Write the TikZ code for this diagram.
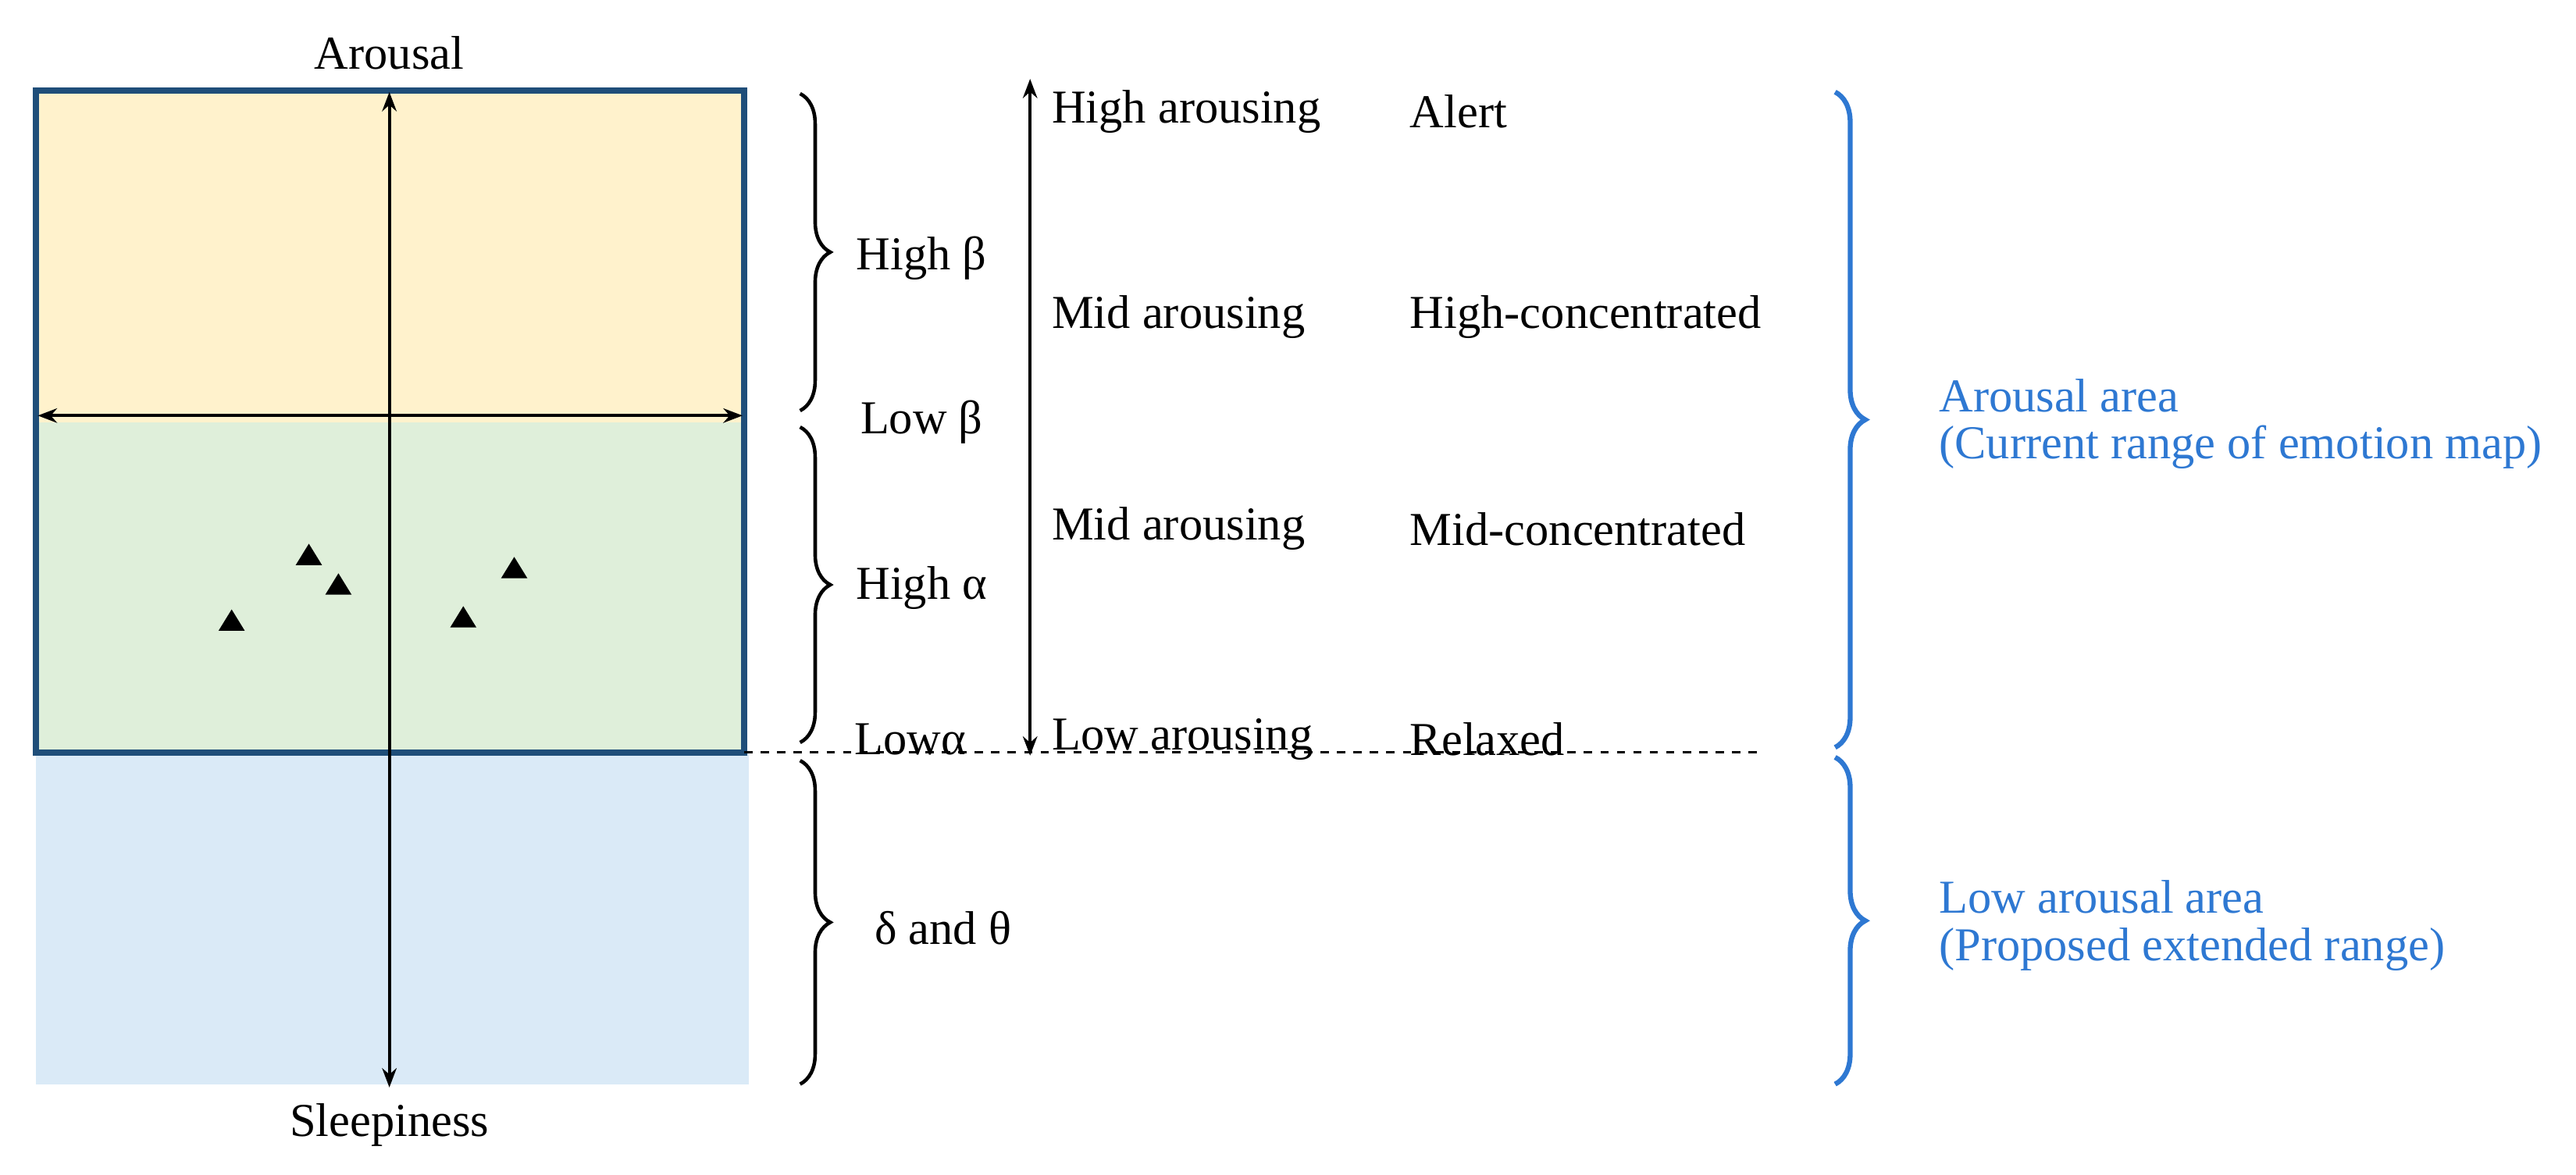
\documentclass[tikz,border=0pt]{standalone}
\usepackage{fontspec}
\setmainfont{Liberation Serif}
\usetikzlibrary{decorations.pathreplacing,arrows.meta}
\definecolor{yel}{HTML}{FFF2CC}
\definecolor{grn}{HTML}{DFEFDA}
\definecolor{blu}{HTML}{DAEAF7}
\definecolor{frame}{HTML}{1F4E79}
\definecolor{bl}{HTML}{2E78D2}
\begin{document}
\begin{tikzpicture}[x=0.021046cm,y=-0.021046cm,
  lab/.style={font=\fontsize{17.2}{19}\selectfont,inner sep=0pt},
  llab/.style={lab,anchor=west},
  blab/.style={llab,text=bl},
  br/.style={decorate,decoration={brace,amplitude=11pt},line width=1.3pt},
  bbr/.style={br,draw=bl,line width=1.8pt},
  ar/.style={{Stealth[length=7pt]}-{Stealth[length=7pt]},line width=1.2pt}]
\useasboundingbox (0,0) rectangle (1568,715);
\fill[yel] (22,55) rectangle (453,257);
\fill[grn] (22,257) rectangle (453,458);
\fill[blu] (22,458) rectangle (456,660);
\draw[frame,line width=2.2pt] (22,55) rectangle (453,458);
\coordinate (vt) at (237,56); \coordinate (vb) at (237,662);
\coordinate (hl) at (23,253); \coordinate (hr) at (452,253);
\draw[ar] (vb) -- (vt);
\draw[ar] (hl) -- (hr);
\foreach \p in {(188,339),(206,357),(141,379),(282,377),(313,347)}
  \fill \p ++(-8,5) -- ++(16,0) -- ++(-8,-13) -- cycle;
\node[lab] (aro) at (237,32) {Arousal};
\node[lab] (sle) at (237,685) {Sleepiness};
\coordinate (b1t) at (487,57); \coordinate (b1b) at (487,250);
\coordinate (b2t) at (487,260); \coordinate (b2b) at (487,452);
\coordinate (b3t) at (487,463); \coordinate (b3b) at (487,660);
\draw[br] (b1t) -- (b1b);
\draw[br] (b2t) -- (b2b);
\draw[br] (b3t) -- (b3b);
\node[lab] (hb) at (561,157) {High β};
\node[lab] (lb) at (561,257) {Low β};
\node[lab] (ha) at (561,358) {High α};
\node[lab] (la) at (554,450) {Lowα};
\node[lab] (dt) at (574,565) {δ and θ};
\coordinate (at) at (627,48); \coordinate (ab) at (627,460);
\draw[ar] (ab) -- (at);
\node[llab] (t1) at (640,68) {High arousing};
\node[llab] (t2) at (640,193) {Mid arousing};
\node[llab] (t3) at (640,322) {Mid arousing};
\node[llab] (t4) at (640,450) {Low arousing};
\node[llab] (s1) at (858,68) {Alert};
\node[llab] (s2) at (858,193) {High-concentrated};
\node[llab] (s3) at (858,322) {Mid-concentrated};
\node[llab] (s4) at (858,450) {Relaxed};
\coordinate (dl) at (453,458); \coordinate (dr) at (1073,458);
\draw[dashed,line width=1pt] (dl) -- (dr);
\coordinate (c1t) at (1117,56); \coordinate (c1b) at (1117,455);
\coordinate (c2t) at (1117,461); \coordinate (c2b) at (1117,660);
\draw[bbr] (c1t) -- (c1b);
\draw[bbr] (c2t) -- (c2b);
\node[blab] (u1) at (1180,241) {Arousal area};
\node[blab] (u2) at (1180,272) {(Current range of emotion map)};
\node[blab] (u3) at (1180,546) {Low arousal area};
\node[blab] (u4) at (1180,578) {(Proposed extended range)};
\end{tikzpicture}
\end{document}
